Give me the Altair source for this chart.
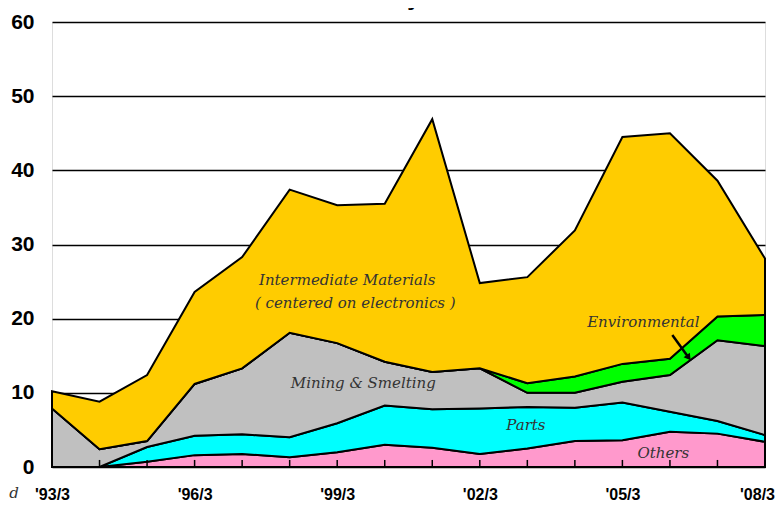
import json
import altair as alt
import pandas as pd

years = ["'93/3", "'94/3", "'95/3", "'96/3", "'97/3", "'98/3", "'99/3", "'00/3",
         "'01/3", "'02/3", "'03/3", "'04/3", "'05/3", "'06/3", "'07/3", "'08/3"]
series = ["Others", "Parts", "Mining & Smelting", "Environmental", "Intermediate Materials"]
colors = ["#FF99CC", "#00FFFF", "#C0C0C0", "#00FF00", "#FFCC00"]

others = [0, 0, 0.7, 1.6, 1.75, 1.3, 2.0, 3.0, 2.6, 1.75, 2.5, 3.5, 3.6, 4.75, 4.5, 3.4]
parts = [0, 0, 2.0, 2.6, 2.65, 2.7, 3.9, 5.3, 5.2, 6.15, 5.6, 4.5, 5.1, 2.7, 1.7, 0.9]
mining = [7.9, 2.4, 0.8, 7.0, 8.9, 14.1, 10.8, 5.9, 5.0, 5.4, 1.9, 2.0, 2.8, 4.95, 10.9, 12.0]
environmental = [0, 0, 0, 0, 0, 0, 0, 0, 0, 0, 1.3, 2.2, 2.4, 2.2, 3.2, 4.2]
intermediate = [2.3, 6.4, 8.9, 12.4, 15.0, 19.3, 18.6, 21.3, 34.1, 11.5, 14.3, 19.7, 30.6, 30.4, 18.3, 7.6]

label_years = [0, 3, 6, 9, 12, 15]
y_ticks = [0, 10, 20, 30, 40, 50, 60]

ann_text = ["Intermediate Materials", "( centered on electronics )", "Mining & Smelting",
            "Parts", "Others", "Environmental"]
ann_x = [6.21, 6.38, 6.55, 9.97, 12.86, 12.44]
ann_y = [25.2, 22.1, 11.3, 5.66, 1.89, 19.6]

arrow = {"x": [13.05], "y": [17.8], "x2": [13.38], "y2": [14.87]}

title_text = "1993 a março de 2008"

rows = []
for i in range(len(years)):
    for k, (name, vals) in enumerate(zip(series, [others, parts, mining, environmental, intermediate])):
        rows.append({"idx": i, "series": name, "value": vals[i], "ord": k})
df = pd.DataFrame(rows)

label_expr = json.dumps(years) + "[datum.value]"

x_enc = alt.X("idx:Q", scale=alt.Scale(domain=[0, 15], nice=False, zero=False),
              axis=alt.Axis(values=label_years, labelExpr=label_expr, ticks=False, grid=False,
                            domain=False, labelPadding=19, labelFont="Liberation Sans",
                            labelFontSize=16, labelFontWeight="bold", labelColor="black",
                            labelAngle=0, labelFlush=False, title=None,
                            labelOffset={"condition": {"test": "datum.value == 15", "value": -8},
                                         "value": 0}))
y_scale = alt.Scale(domain=[0, 60], nice=False)

areas = alt.Chart(df).mark_area(stroke="black", strokeWidth=2, opacity=1, interpolate="linear").encode(
    x=x_enc,
    y=alt.Y("value:Q", stack="zero", scale=y_scale,
            axis=alt.Axis(values=y_ticks, grid=True, gridColor="black", gridWidth=1.5,
                          gridOpacity=1, ticks=False, domain=False, labelPadding=18,
                          labelFont="Liberation Sans Narrow, Liberation Sans",
                          labelFontSize=21, labelFontWeight="bold", labelColor="black",
                          title=None)),
    color=alt.Color("series:N", scale=alt.Scale(domain=series, range=colors), legend=None),
    order=alt.Order("ord:Q"),
)

tick_df = pd.DataFrame({"idx": list(range(1, 15)), "y0": [0] * 14, "y1": [0.95] * 14})
ticks = alt.Chart(tick_df).mark_rule(color="black", strokeWidth=1.5).encode(
    x="idx:Q", y=alt.Y("y0:Q", scale=y_scale), y2="y1:Q")

ann_df = pd.DataFrame({"label": ann_text, "x": ann_x, "y": ann_y})
texts = alt.Chart(ann_df).mark_text(font="DejaVu Serif", fontStyle="italic", fontSize=15,
                                    color="#333333").encode(
    x="x:Q", y=alt.Y("y:Q", scale=y_scale), text="label:N")

arr_df = pd.DataFrame(arrow)
arrow_line = alt.Chart(arr_df).mark_rule(color="black", strokeWidth=2.5).encode(
    x="x:Q", y=alt.Y("y:Q", scale=y_scale), x2="x2:Q", y2="y2:Q")
arrow_head = alt.Chart(arr_df).mark_point(shape="triangle", angle=144, filled=True, size=60,
                                          color="black", opacity=1).encode(
    x="x2:Q", y=alt.Y("y2:Q", scale=y_scale))

title = alt.Chart(pd.DataFrame({"t": [title_text]})).mark_text(
    font="DejaVu Sans", fontSize=28, baseline="bottom", color="black").encode(
    x=alt.value(348), y=alt.value(-12), text="t:N")

dmark = alt.Chart(pd.DataFrame({"t": ["d"]})).mark_text(
    font="DejaVu Serif", fontStyle="italic", fontSize=15, color="#333333").encode(
    x=alt.value(-38), y=alt.value(471), text="t:N")

chart = alt.layer(areas, ticks, texts, arrow_line, arrow_head, title, dmark).properties(
    width=713, height=445,
    autosize=alt.AutoSizeParams(type="none"),
    padding={"left": 44, "top": 14, "right": 10, "bottom": 36},
).configure_view(stroke="black", strokeWidth=2).configure(background="white")

chart.save("out.html", embed_options={"renderer": "svg", "actions": False})
